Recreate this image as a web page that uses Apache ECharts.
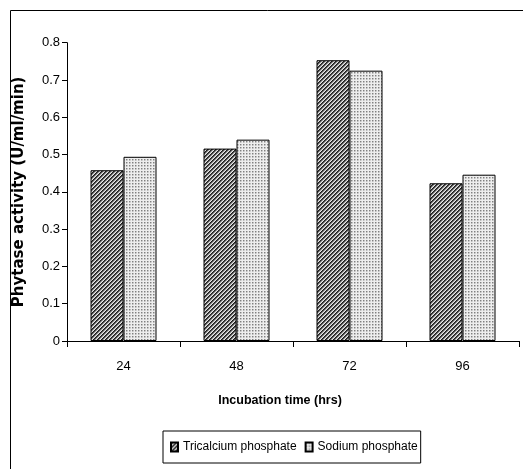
<!DOCTYPE html>
<html>
<head>
<meta charset="utf-8">
<script src="https://cdn.jsdelivr.net/npm/echarts@6.0.0/dist/echarts.min.js"></script>
<style>
html,body{margin:0;padding:0;background:#fff;}
#chart{width:523px;height:469px;}
</style>
</head>
<body>
<div id="chart"></div>
<script>
// ---- data ----
const categories = ['24', '48', '72', '96'];
const tricalcium = [0.458, 0.516, 0.753, 0.423];
const sodium = [0.494, 0.540, 0.725, 0.446];
const seriesNames = ['Tricalcium phosphate', 'Sodium phosphate'];
const xTitle = 'Incubation time (hrs)';
const yTitle = 'Phytase activity (U/ml/min)';

// ---- fill patterns ----
function makeHatch() {
  const c = document.createElement('canvas');
  c.width = 4; c.height = 4;
  const ctx = c.getContext('2d');
  const cols = ['#1e1e1e', '#4a4a4a', '#aaaaaa', '#e6e6e6'];
  for (let y = 0; y < 4; y++) {
    for (let x = 0; x < 4; x++) {
      ctx.fillStyle = cols[(x + y) % 4];
      ctx.fillRect(x, y, 1, 1);
    }
  }
  return c;
}
function makeDots() {
  const c = document.createElement('canvas');
  c.width = 3; c.height = 3;
  const ctx = c.getContext('2d');
  ctx.fillStyle = '#eeeeee';
  ctx.fillRect(0, 0, 3, 3);
  ctx.fillStyle = '#808080';
  ctx.fillRect(0, 0, 1, 1);
  ctx.fillStyle = '#bcbcbc';
  ctx.fillRect(1, 0, 1, 1);
  ctx.fillRect(0, 1, 1, 1);
  ctx.fillStyle = '#d6d6d6';
  ctx.fillRect(1, 1, 1, 1);
  return c;
}
const hatch = { image: makeHatch(), repeat: 'repeat' };
const dots = { image: makeDots(), repeat: 'repeat' };

const sans = '"Liberation Sans", Arial, sans-serif';

const chart = echarts.init(document.getElementById('chart'));
chart.setOption({
  animation: false,
  backgroundColor: '#fff',
  graphic: [{
    type: 'rect',
    shape: { x: 10.5, y: 10.5, width: 600, height: 600 },
    style: { fill: 'none', stroke: '#000', lineWidth: 1 },
    silent: true,
    z: -1
  }],
  grid: { left: 67, right: 4, top: 42.7, bottom: 128 },
  legend: {
    left: 163,
    top: 431,
    orient: 'horizontal',
    icon: 'rect',
    itemWidth: 7,
    itemHeight: 9,
    itemGap: 8,
    padding: [10, 3, 10, 7],
    borderColor: '#000',
    borderWidth: 1,
    textStyle: { fontFamily: sans, fontSize: 12, color: '#000' },
    data: seriesNames
  },
  xAxis: {
    type: 'category',
    data: categories,
    name: xTitle,
    nameLocation: 'middle',
    nameGap: 53,
    nameTextStyle: { fontFamily: sans, fontWeight: 'bold', fontSize: 12.5, color: '#000', padding: [0, 26, 0, 0] },
    axisLine: { lineStyle: { color: '#000', width: 1 } },
    axisTick: { show: true, length: 6, lineStyle: { color: '#000' } },
    axisLabel: { margin: 19, fontFamily: sans, fontSize: 13, color: '#000' },
    splitLine: { show: false }
  },
  yAxis: {
    type: 'value',
    min: 0,
    max: 0.8,
    interval: 0.1,
    name: yTitle,
    nameLocation: 'middle',
    nameGap: 40,
    nameTextStyle: { fontFamily: '"DejaVu Sans", sans-serif', fontWeight: 'bold', fontSize: 15, color: '#000' },
    axisLine: { show: true, lineStyle: { color: '#000', width: 1 } },
    axisTick: { show: true, length: 5, lineStyle: { color: '#000' } },
    axisLabel: { margin: 7, fontFamily: sans, fontSize: 13, color: '#000' },
    splitLine: { show: false }
  },
  series: [
    {
      name: seriesNames[0],
      type: 'bar',
      data: tricalcium,
      barWidth: 33,
      barGap: '0%',
      itemStyle: { color: hatch, borderColor: '#000', borderWidth: 1 }
    },
    {
      name: seriesNames[1],
      type: 'bar',
      data: sodium,
      barWidth: 33,
      barGap: '0%',
      itemStyle: { color: dots, borderColor: '#000', borderWidth: 1 }
    }
  ]
});
</script>
</body>
</html>
